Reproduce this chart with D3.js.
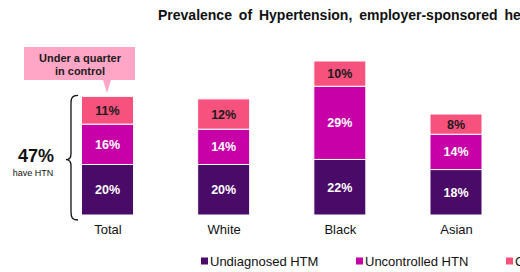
<!DOCTYPE html>
<html>
<head>
<meta charset="utf-8">
<script src="https://cdn.jsdelivr.net/npm/d3@7"></script>
<style>
  html, body { margin: 0; padding: 0; background: #fff; }
  svg { display: block; font-family: Arial, "Liberation Sans", sans-serif; }
</style>
</head>
<body>
<svg id="chart" width="520" height="272"></svg>
<script>
const categories = ["Total", "White", "Black", "Asian"];
const undiagnosed = [20, 20, 22, 18];
const uncontrolled = [16, 14, 29, 14];
const controlled = [11, 12, 10, 8];
const seriesNames = ["Undiagnosed HTM", "Uncontrolled HTN", "Controlled HTN"];
const seriesColors = ["#4a0a68", "#c800a8", "#f7527e"];
const labelColors = ["#ffffff", "#ffffff", "#1a1a1a"];
const titleText = "Prevalence of Hypertension, employer-sponsored health plan members";

const svg = d3.select("#chart");

const x = d3.scalePoint().domain(categories).range([107.5, 456]);
const y = d3.scaleLinear().domain([0, 61]).range([215, 61]);
const barW = 52;

const rows = categories.map((c, i) => ({ cat: c, s0: undiagnosed[i], s1: uncontrolled[i], s2: controlled[i] }));
const stack = d3.stack().keys(["s0", "s1", "s2"]);
const stacked = stack(rows);

// title
svg.append("text")
  .attr("x", 158).attr("y", 20)
  .attr("font-size", 14).attr("font-weight", "bold")
  .attr("word-spacing", 3)
  .attr("fill", "#111")
  .text(titleText);

// bars
const layers = svg.append("g").selectAll("g").data(stacked).join("g")
  .attr("fill", (d, i) => seriesColors[i]);

layers.selectAll("rect").data(d => d).join("rect")
  .attr("x", d => x(d.data.cat) - barW / 2)
  .attr("y", d => y(d[1]))
  .attr("width", barW)
  .attr("height", d => y(d[0]) - y(d[1]))
  .attr("stroke", "#ffffff")
  .attr("stroke-width", 1);

// value labels
svg.append("g").selectAll("g").data(stacked).join("g")
  .each(function (layer, li) {
    d3.select(this).selectAll("text").data(layer).join("text")
      .attr("x", d => x(d.data.cat))
      .attr("y", d => (y(d[0]) + y(d[1])) / 2 + 4.5)
      .attr("text-anchor", "middle")
      .attr("font-size", 12.5).attr("font-weight", "bold")
      .attr("fill", labelColors[li])
      .text(d => (d[1] - d[0]) + "%");
  });

// category axis labels
const xAxis = d3.axisBottom(x).tickSize(0).tickPadding(0);
const ax = svg.append("g").attr("transform", "translate(0,225)").call(xAxis);
ax.select(".domain").remove();
ax.selectAll("text").attr("font-size", 13).attr("fill", "#111")
  .attr("font-family", "Arial, 'Liberation Sans', sans-serif").attr("dy", "0.71em");

// brace
const bTop = y(undiagnosed[0] + uncontrolled[0] + controlled[0]) - 1;
const bBot = 220;
const bMid = (bTop + bBot) / 2 + 2;
svg.append("path")
  .attr("d", `M78,${bTop} C72,${bTop} 71,${bTop + 3} 71,${bTop + 8} L71,${bMid - 6} C71,${bMid - 2} 69,${bMid} 66,${bMid} C69,${bMid} 71,${bMid + 2} 71,${bMid + 6} L71,${bBot - 8} C71,${bBot - 3} 72,${bBot} 78,${bBot}`)
  .attr("fill", "none").attr("stroke", "#111").attr("stroke-width", 1.3);

svg.append("text").attr("x", 36).attr("y", 162)
  .attr("text-anchor", "middle").attr("font-size", 18).attr("font-weight", "bold")
  .attr("fill", "#111").text("47%");
svg.append("text").attr("x", 33).attr("y", 176)
  .attr("text-anchor", "middle").attr("font-size", 9)
  .attr("fill", "#111").text("have HTN");

// callout
svg.append("path")
  .attr("d", "M24,47 L135,47 L135,80 L111,80 L107,93 L103,80 L24,80 Z")
  .attr("fill", "#ffa6c6");
svg.append("text").attr("x", 80).attr("y", 62)
  .attr("text-anchor", "middle").attr("font-size", 11).attr("font-weight", "bold")
  .attr("fill", "#1a1a1a").text("Under a quarter");
svg.append("text").attr("x", 80).attr("y", 75)
  .attr("text-anchor", "middle").attr("font-size", 11).attr("font-weight", "bold")
  .attr("fill", "#1a1a1a").text("in control");

// legend
const legendX = [201, 356, 506];
const lg = svg.append("g").selectAll("g").data(seriesNames).join("g")
  .attr("transform", (d, i) => `translate(${legendX[i]},261)`);
lg.append("rect").attr("x", 0).attr("y", -3.5).attr("width", 7).attr("height", 7)
  .attr("fill", (d, i) => seriesColors[i]);
lg.append("text").attr("x", 9).attr("y", 4.5)
  .attr("font-size", 13).attr("fill", "#111").text(d => d);
</script>
</body>
</html>
